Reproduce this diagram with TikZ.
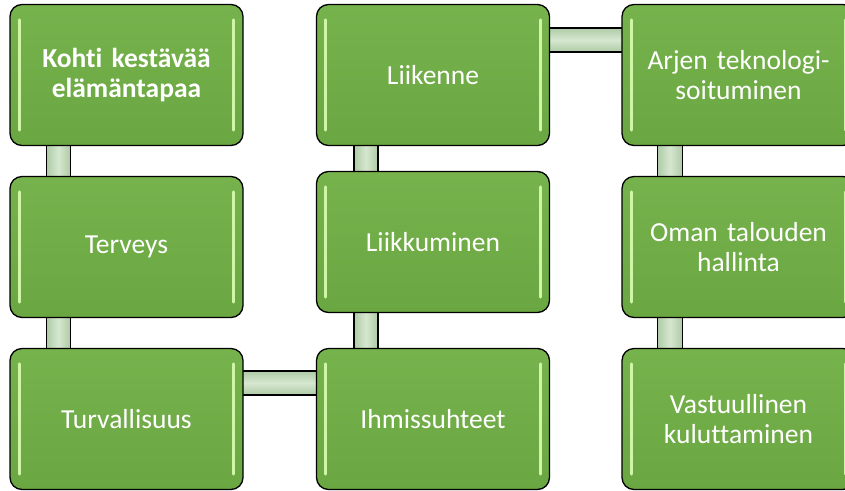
\documentclass[tikz,border=0pt]{standalone}
\usepackage{fontspec}
\setmainfont{Carlito}[Ligatures={NoCommon}]
\usetikzlibrary{calc}
\pgfdeclarelayer{background}
\pgfsetlayers{background,main}
\definecolor{boxtop}{HTML}{77B34D}
\definecolor{boxbot}{HTML}{6AA641}
\definecolor{hlcol}{HTML}{CFF5A6}
\definecolor{connedge}{HTML}{AECBA6}
\definecolor{connmid}{HTML}{D6E7D0}
\tikzset{
  box/.style={draw=black, line width=1.3pt, rounded corners=12pt,
    top color=boxtop, bottom color=boxbot,
    minimum width=233pt, minimum height=141pt, inner sep=0pt,
    text=white, align=center, text width=220pt,
    font=\fontsize{27.5pt}{30pt}\selectfont},
  vconn/.style={draw=black, line width=1.3pt, left color=connedge, right color=connedge, middle color=connmid},
  hconn/.style={draw=black, line width=1.3pt, top color=connedge, bottom color=connedge, middle color=connmid},
  hl/.style={draw=hlcol, line width=3pt, line cap=round},
}
\begin{document}
\begin{tikzpicture}[x=1pt,y=-1pt]
\useasboundingbox (0,0) rectangle (845,490);
% column 1
\node[box] (k) at (126.5,75) {\textbf{Kohti kestävää}\\\textbf{elämäntapaa}};
\node[box] (te) at (126.5,247) {Terveys};
\node[box] (tu) at (126.5,419) {Turvallisuus};
% column 2
\node[box] (lk) at (433,75) {Liikenne};
\node[box] (lm) at (433,242) {Liikkuminen};
\node[box] (ih) at (433,419) {Ihmissuhteet};
% column 3
\node[box] (ar) at (738.5,75) {Arjen teknologi-\\soituminen};
\node[box] (om) at (738.5,247) {Oman talouden\\hallinta};
\node[box] (va) at (738.5,419) {Vastuullinen\\kuluttaminen};
% highlights
\foreach \n in {k,te,tu,lk,lm,ih,ar,om,va}{
  \draw[hl] ($(\n.north west)+(10,16)$) -- ($(\n.south west)+(10,-16)$);
  \draw[hl] ($(\n.north east)+(-10,16)$) -- ($(\n.south east)+(-10,-16)$);
}
% connectors
\begin{pgfonlayer}{background}
\path[vconn] ($(k.south west)+(37,-5)$) rectangle ($(te.north west)+(61,5)$);
\path[vconn] ($(te.south west)+(37,-5)$) rectangle ($(tu.north west)+(61,5)$);
\path[hconn] ($(tu.north east)+(-5,23)$) rectangle ($(ih.north west)+(5,47)$);
\path[vconn] ($(lm.south west)+(38,-5)$) rectangle ($(ih.north west)+(62,5)$);
\path[vconn] ($(lk.south west)+(38,-5)$) rectangle ($(lm.north west)+(62,5)$);
\path[hconn] ($(lk.north east)+(-5,24)$) rectangle ($(ar.north west)+(5,48)$);
\path[vconn] ($(ar.south west)+(36,-5)$) rectangle ($(om.north west)+(61,5)$);
\path[vconn] ($(om.south west)+(36,-5)$) rectangle ($(va.north west)+(61,5)$);
\end{pgfonlayer}
\end{tikzpicture}
\end{document}
